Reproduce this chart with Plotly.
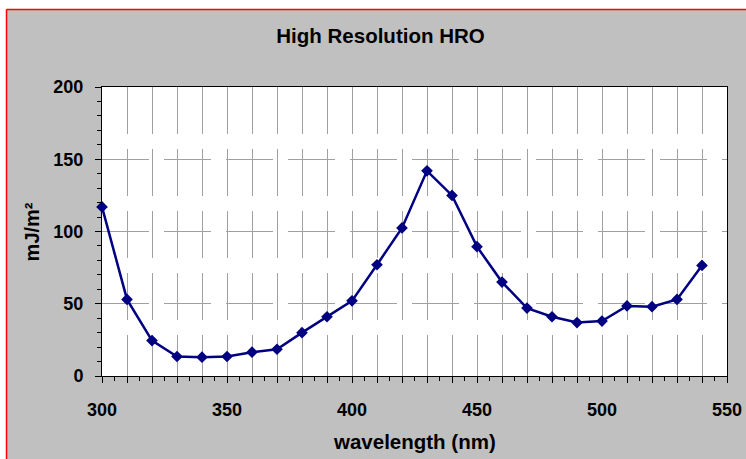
import plotly.graph_objects as go

wavelength = [300, 310, 320, 330, 340, 350, 360, 370, 380, 390, 400, 410, 420,
              430, 440, 450, 460, 470, 480, 490, 500, 510, 520, 530, 540]
dose = [117, 53, 24.5, 13.5, 13, 13.5, 16.5, 18.5, 30, 41, 52, 77, 102.5,
        142, 125, 89.5, 65, 47, 41, 37, 38, 48.5, 48, 53, 76.5]

x_ticks = list(range(300, 551, 10))
x_labels = [str(v) if v % 50 == 0 else "" for v in x_ticks]
y_ticks = [0, 50, 100, 150, 200]

FONT = "Liberation Sans, Arial, sans-serif"

# plot area in pixels: x 102..727, y 87..376
L, R, T, B = 102, 727, 87, 376
W, H = R - L, B - T


def px_x(p):
    return (p - L) / W


def px_y(p):
    return (B - p) / H


fig = go.Figure()
fig.add_trace(go.Scatter(
    x=wavelength, y=dose, mode="lines+markers",
    line=dict(color="#000080", width=2.5),
    marker=dict(symbol="diamond", size=9, color="#000080"),
    cliponaxis=False, showlegend=False, hoverinfo="skip",
))

fig.update_layout(
    width=746, height=459,
    margin=dict(l=L, r=746 - R, t=T, b=459 - B, autoexpand=False),
    paper_bgcolor="#C0C0C0", plot_bgcolor="white",
    font=dict(family=FONT, color="black"),
    title=dict(text="<b>High Resolution HRO</b>", xref="container", yref="container",
               x=380.5 / 746, y=1 - 35.7 / 459, xanchor="center", yanchor="middle",
               font=dict(size=20.5, family=FONT, color="black")),
    xaxis=dict(range=[300, 550], tickvals=x_ticks, ticktext=x_labels, automargin=False,
               showgrid=True, gridcolor="#a0a0a0", gridwidth=1, griddash="47px,15px",
               ticks="outside", ticklen=6, tickcolor="black", tickwidth=1,
               minor=dict(dtick=5, tick0=300, ticks="outside", ticklen=4, tickcolor="black", showgrid=False),
               showline=True, linecolor="black", linewidth=1, mirror=True,
               zeroline=False, ticklabelstandoff=11,
               tickfont=dict(size=18, family=FONT, color="black", weight="bold")),
    yaxis=dict(range=[0, 200], tickvals=y_ticks, automargin=False,
               showgrid=True, gridcolor="#a0a0a0", gridwidth=1, griddash="47px,15px",
               ticks="outside", ticklen=6, tickcolor="black", tickwidth=1,
               minor=dict(dtick=10, tick0=0, ticks="outside", ticklen=4, tickcolor="black", showgrid=False),
               showline=True, linecolor="black", linewidth=1, mirror=True,
               zeroline=False, ticklabelstandoff=8,
               tickfont=dict(size=18, family=FONT, color="black", weight="bold")),
)

fig.add_annotation(text="<b>wavelength (nm)</b>", xref="paper", yref="paper",
                   x=px_x(414.7), y=px_y(441.7), xanchor="center", yanchor="middle",
                   showarrow=False, font=dict(size=20.5, family=FONT, color="black"))
fig.add_annotation(text="<b>mJ/m²</b>", xref="paper", yref="paper",
                   x=px_x(31.7), y=px_y(231.7), xanchor="center", yanchor="middle",
                   textangle=-90, showarrow=False, font=dict(size=20, family=FONT, color="black"))

# white strips outside the chart frame and the red frame edge
fig.add_shape(type="rect", xref="paper", yref="paper", x0=px_x(-5), x1=px_x(6), y0=px_y(470), y1=px_y(-5),
              line=dict(width=0), fillcolor="white", layer="above")
fig.add_shape(type="rect", xref="paper", yref="paper", x0=px_x(-5), x1=px_x(760), y0=px_y(9), y1=px_y(-5),
              line=dict(width=0), fillcolor="white", layer="above")
fig.add_shape(type="line", xref="paper", yref="paper", x0=px_x(6.5), x1=px_x(6.5), y0=px_y(470), y1=px_y(9.5),
              line=dict(color="red", width=1.5), layer="above")
fig.add_shape(type="line", xref="paper", yref="paper", x0=px_x(6.5), x1=px_x(760), y0=px_y(9.5), y1=px_y(9.5),
              line=dict(color="red", width=1.5), layer="above")

fig.write_html("out.html", config={"displayModeBar": False},
               post_script="document.body.style.margin='0';")
